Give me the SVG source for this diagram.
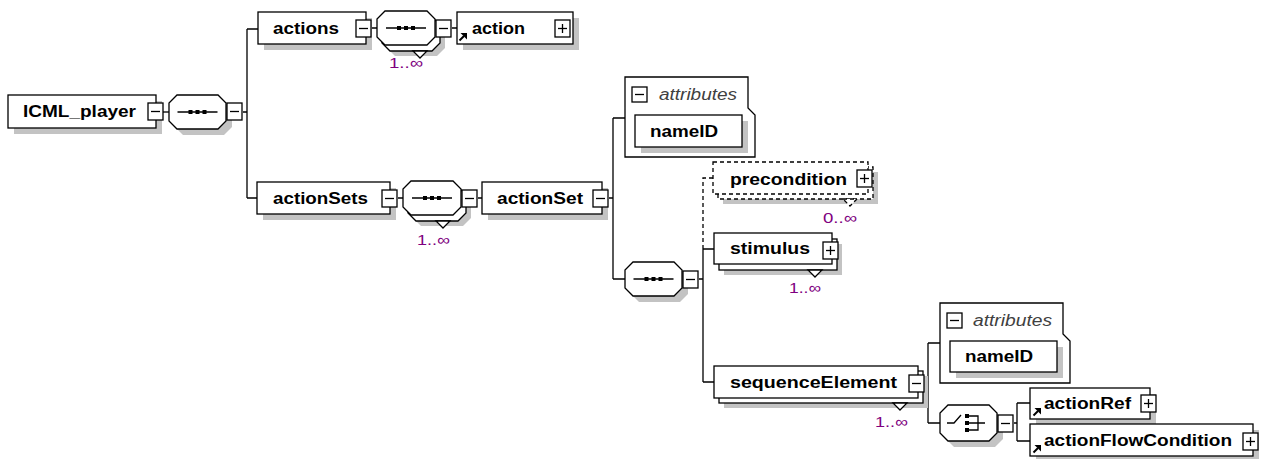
<svg xmlns="http://www.w3.org/2000/svg" xmlns:xlink="http://www.w3.org/1999/xlink" width="1263" height="459" viewBox="0 0 1263 459">
  <style>
    .box { fill: #fff; stroke: #000; stroke-width: 1.3; }
    .dash { stroke-dasharray: 4 3; }
    .shadow { fill: #c3c3c3; stroke: none; }
    .wire { fill: none; stroke: #000; stroke-width: 1.3; }
    .name { font-family: "Liberation Sans", Arial, sans-serif; font-weight: bold; font-size: 16px; fill: #000; }
    .occ { font-family: "Liberation Sans", Arial, sans-serif; font-size: 15px; fill: #800080; }
    .attr { font-family: "Liberation Sans", Arial, sans-serif; font-style: italic; font-size: 16px; fill: #404040; }
  </style>
  <defs>
    <!-- expand / collapse toggles, origin at top-left -->
    <g id="minus">
      <rect class="box" x="0" y="0" width="15" height="17"/>
      <line x1="3" y1="8.5" x2="12" y2="8.5" stroke="#000" stroke-width="1.3"/>
    </g>
    <g id="plus">
      <rect class="box" x="0" y="0" width="15" height="17"/>
      <line x1="3" y1="8.5" x2="12" y2="8.5" stroke="#000" stroke-width="1.3"/>
      <line x1="7.5" y1="4" x2="7.5" y2="13" stroke="#000" stroke-width="1.3"/>
    </g>
    <g id="minusSmall">
      <rect class="box" x="0" y="0" width="15" height="15"/>
      <line x1="3" y1="7.5" x2="12" y2="7.5" stroke="#000" stroke-width="1.3"/>
    </g>
    <!-- sequence compositor glyph, centred on origin -->
    <g id="seqIcon">
      <line x1="-20" y1="0" x2="20" y2="0" stroke="#000" stroke-width="1.3"/>
      <rect x="-9" y="-2" width="4" height="4" fill="#000"/>
      <rect x="-2" y="-2" width="4" height="4" fill="#000"/>
      <rect x="5" y="-2" width="4" height="4" fill="#000"/>
    </g>
    <!-- choice compositor glyph, origin at octagon centre -->
    <g id="choiceIcon" fill="none" stroke="#000" stroke-width="1.3">
      <path d="M-21,0 H-14 L-7,-8"/>
      <rect x="-3" y="-9" width="4" height="4" fill="#000" stroke="none"/>
      <rect x="-3" y="-2" width="4" height="4" fill="#000" stroke="none"/>
      <rect x="-3" y="5" width="4" height="4" fill="#000" stroke="none"/>
      <path d="M1,-7 H10 V7 H1 M1,0 H17"/>
    </g>
    <!-- reference marker, origin at lower-left -->
    <g id="refArrow">
      <line x1="0.5" y1="-0.5" x2="5" y2="-5" stroke="#000" stroke-width="2"/>
      <polygon points="8,-8 8,-1.5 1.5,-8" fill="#000"/>
    </g>
  </defs>

  <rect width="1263" height="459" fill="#fff"/>

  <!-- connectors -->
  <g id="connectors" class="wire">
    <path d="M162,112 H169"/>
    <path d="M243,112 H247 M247,29 V198 M247,29 H258 M247,198 H257"/>
    <path d="M372,28 H377 M452,28 H457"/>
    <path d="M398,198 H403 M478,198 H482"/>
    <path d="M609,198 H613 M613,118 V279 M613,118 H625 M613,279 H625"/>
    <path d="M699,279 H703 M703,249 V382 M703,249 H714 M703,382 H714"/>
    <path class="dash" d="M713,178 H703 V249"/>
    <path d="M925,383 H928 M928,343 V423 M928,343 H940 M928,423 H940"/>
    <path d="M1014,423 H1017 M1017,403 V441 M1017,403 H1030 M1017,441 H1030"/>
  </g>

  <!-- root element -->
  <g id="ICML_player">
    <rect class="shadow" x="14" y="101" width="148" height="33"/>
    <rect class="box" x="8" y="95" width="148" height="33"/>
    <text class="name" x="23" y="117" textLength="113" lengthAdjust="spacingAndGlyphs">ICML_player</text>
    <use xlink:href="#minus" x="148" y="103"/>
  </g>

  <g id="seq_root">
    <path class="shadow" transform="translate(6,6)" d="M177,95 H218 L226,103 V121 L218,129 H177 L169,121 V103 Z"/>
    <path class="box" d="M177,95 H218 L226,103 V121 L218,129 H177 L169,121 V103 Z"/>
    <use xlink:href="#seqIcon" x="197.5" y="112"/>
    <use xlink:href="#minus" x="227" y="103"/>
  </g>

  <!-- actions branch -->
  <g id="actions">
    <rect class="shadow" x="264" y="18" width="108" height="32"/>
    <rect class="box" x="258" y="12" width="108" height="32"/>
    <text class="name" x="273" y="34" textLength="66" lengthAdjust="spacingAndGlyphs">actions</text>
    <use xlink:href="#minus" x="356" y="20"/>
  </g>

  <g id="seq_actions">
    <path class="shadow" transform="translate(10,11)" d="M385,11 H427 L435,19 V37 L427,45 H385 L377,37 V19 Z"/>
    <path class="box" transform="translate(5,6)" d="M385,11 H427 L435,19 V37 L427,45 H385 L377,37 V19 Z"/>
    <path class="box" d="M385,11 H427 L435,19 V37 L427,45 H385 L377,37 V19 Z"/>
    <polygon class="box" points="413,51 427,51 420,58"/>
    <use xlink:href="#seqIcon" x="406" y="28"/>
    <use xlink:href="#minus" x="436" y="20"/>
    <text class="occ" x="389" y="68" textLength="34" lengthAdjust="spacingAndGlyphs">1..∞</text>
  </g>

  <g id="action">
    <rect class="shadow" x="463" y="18" width="116" height="32"/>
    <rect class="box" x="457" y="12" width="116" height="32"/>
    <use xlink:href="#refArrow" x="459" y="41"/>
    <text class="name" x="472" y="34" textLength="53" lengthAdjust="spacingAndGlyphs">action</text>
    <use xlink:href="#plus" x="555" y="20"/>
  </g>

  <!-- actionSets branch -->
  <g id="actionSets">
    <rect class="shadow" x="263" y="188" width="133" height="32"/>
    <rect class="box" x="257" y="182" width="133" height="32"/>
    <text class="name" x="273" y="204" textLength="95" lengthAdjust="spacingAndGlyphs">actionSets</text>
    <use xlink:href="#minus" x="382" y="190"/>
  </g>

  <g id="seq_actionSets">
    <path class="shadow" transform="translate(10,11)" d="M411,181 H453 L461,189 V207 L453,215 H411 L403,207 V189 Z"/>
    <path class="box" transform="translate(5,6)" d="M411,181 H453 L461,189 V207 L453,215 H411 L403,207 V189 Z"/>
    <path class="box" d="M411,181 H453 L461,189 V207 L453,215 H411 L403,207 V189 Z"/>
    <polygon class="box" points="436,221 450,221 443,228"/>
    <use xlink:href="#seqIcon" x="432" y="198"/>
    <use xlink:href="#minus" x="462" y="190"/>
    <text class="occ" x="417" y="245" textLength="33" lengthAdjust="spacingAndGlyphs">1..∞</text>
  </g>

  <g id="actionSet">
    <rect class="shadow" x="488" y="188" width="120" height="32"/>
    <rect class="box" x="482" y="182" width="120" height="32"/>
    <text class="name" x="497" y="204" textLength="86" lengthAdjust="spacingAndGlyphs">actionSet</text>
    <use xlink:href="#minus" x="593" y="190"/>
  </g>

  <g id="attributes_actionSet">
    <path class="box" d="M625,77 H748 V108 L755,115 V157 H625 Z"/>
    <use xlink:href="#minusSmall" x="632" y="87"/>
    <text class="attr" x="659" y="100" textLength="78" lengthAdjust="spacingAndGlyphs">attributes</text>
    <rect class="shadow" x="641" y="121" width="107" height="32"/>
    <rect class="box" x="635" y="115" width="107" height="32"/>
    <text class="name" x="650" y="137" textLength="68" lengthAdjust="spacingAndGlyphs">nameID</text>
  </g>

  <g id="seq_actionSet">
    <path class="shadow" transform="translate(6,6)" d="M633,262 H674 L682,270 V288 L674,296 H633 L625,288 V270 Z"/>
    <path class="box" d="M633,262 H674 L682,270 V288 L674,296 H633 L625,288 V270 Z"/>
    <use xlink:href="#seqIcon" x="653.5" y="279"/>
    <use xlink:href="#minus" x="683" y="271"/>
  </g>

  <g id="precondition">
    <rect class="shadow" x="723" y="172" width="155" height="32"/>
    <rect class="box dash" x="718" y="167" width="155" height="32"/>
    <rect class="box dash" x="713" y="162" width="155" height="32"/>
    <polygon class="box dash" points="843,199 857,199 850,206"/>
    <text class="name" x="730" y="185" textLength="117" lengthAdjust="spacingAndGlyphs">precondition</text>
    <use xlink:href="#plus" x="857" y="170"/>
    <text class="occ" x="823" y="223" textLength="34" lengthAdjust="spacingAndGlyphs">0..∞</text>
  </g>

  <g id="stimulus">
    <rect class="shadow" x="724" y="244" width="118" height="31"/>
    <rect class="box" x="719" y="239" width="118" height="31"/>
    <rect class="box" x="714" y="233" width="118" height="31"/>
    <polygon class="box" points="808,270 822,270 815,277"/>
    <text class="name" x="730" y="254" textLength="80" lengthAdjust="spacingAndGlyphs">stimulus</text>
    <use xlink:href="#plus" x="823" y="242"/>
    <text class="occ" x="789" y="293" textLength="32" lengthAdjust="spacingAndGlyphs">1..∞</text>
  </g>

  <g id="sequenceElement">
    <rect class="shadow" x="724" y="376" width="204" height="32"/>
    <rect class="box" x="719" y="371" width="204" height="32"/>
    <rect class="box" x="714" y="366" width="204" height="32"/>
    <polygon class="box" points="893,403 907,403 900,410"/>
    <text class="name" x="730" y="388" textLength="167" lengthAdjust="spacingAndGlyphs">sequenceElement</text>
    <use xlink:href="#minus" x="909" y="375"/>
    <text class="occ" x="875" y="427" textLength="33" lengthAdjust="spacingAndGlyphs">1..∞</text>
  </g>

  <g id="attributes_sequenceElement">
    <path class="box" d="M940,303 H1063 V334 L1070,341 V383 H940 Z"/>
    <use xlink:href="#minusSmall" x="947" y="313"/>
    <text class="attr" x="973" y="326" textLength="79" lengthAdjust="spacingAndGlyphs">attributes</text>
    <rect class="shadow" x="956" y="347" width="107" height="31"/>
    <rect class="box" x="950" y="341" width="107" height="31"/>
    <text class="name" x="965" y="362" textLength="68" lengthAdjust="spacingAndGlyphs">nameID</text>
  </g>

  <g id="choice_sequenceElement">
    <path class="shadow" transform="translate(6,6)" d="M948,405 H989 L997,413 V433 L989,441 H948 L940,433 V413 Z"/>
    <path class="box" d="M948,405 H989 L997,413 V433 L989,441 H948 L940,433 V413 Z"/>
    <use xlink:href="#choiceIcon" x="968" y="423"/>
    <use xlink:href="#minus" x="998" y="415"/>
  </g>

  <g id="actionRef">
    <rect class="shadow" x="1036" y="394" width="120" height="31"/>
    <rect class="box" x="1030" y="388" width="120" height="31"/>
    <use xlink:href="#refArrow" x="1033" y="416"/>
    <text class="name" x="1044" y="409" textLength="87" lengthAdjust="spacingAndGlyphs">actionRef</text>
    <use xlink:href="#plus" x="1141" y="395"/>
  </g>

  <g id="actionFlowCondition">
    <rect class="shadow" x="1036" y="430" width="223" height="32"/>
    <rect class="box" x="1030" y="424" width="223" height="32"/>
    <use xlink:href="#refArrow" x="1033" y="453"/>
    <text class="name" x="1044" y="446" textLength="188" lengthAdjust="spacingAndGlyphs">actionFlowCondition</text>
    <use xlink:href="#plus" x="1243" y="433"/>
  </g>
</svg>
